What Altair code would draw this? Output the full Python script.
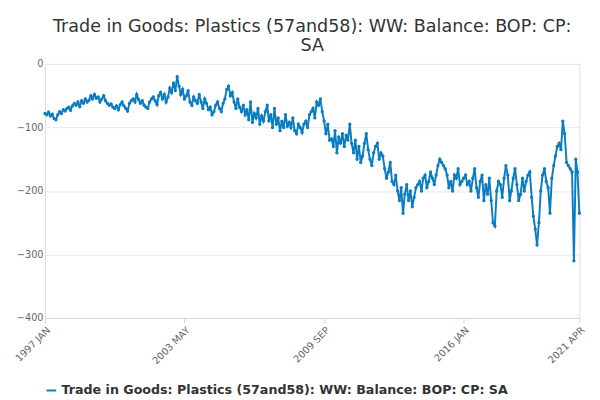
import altair as alt
import pandas as pd

# monthly values, 1997 JAN .. 2021 APR
values = [
    -78, -80, -76, -82, -79, -86, -88, -80, -75, -78, -72, -74,   # 1997
    -70, -68, -73, -66, -62, -65, -60, -67, -58, -62, -55, -60,   # 1998
    -57, -50, -55, -48, -54, -52, -60, -55, -50, -58, -62, -65,   # 1999
    -63, -68, -70, -66, -72, -64, -60, -66, -70, -74, -62, -58,   # 2000
    -55, -60, -48, -56, -62, -58, -65, -68, -70, -60, -55, -52,   # 2001
    -58, -64, -50, -45, -55, -48, -60, -52, -38, -45, -30, -42,   # 2002
    -20, -35, -48, -40, -55, -50, -42, -60, -65, -52, -58, -62,   # 2003
    -48, -60, -70, -55, -62, -72, -68, -80, -75, -65, -60, -70,   # 2004
    -75, -62, -55, -40, -35, -50, -45, -60, -70, -55, -68, -75,   # 2005
    -65, -80, -72, -88, -60, -92, -78, -85, -70, -95, -82, -90,   # 2006
    -75, -65, -90, -80, -100, -70, -95, -85, -105, -90, -100, -80,  # 2007
    -98, -92, -100, -85, -105, -110, -95, -100, -108, -95, -90, -100,  # 2008
    -80, -75, -70, -85, -60, -65, -55, -75, -90, -110, -95, -120,  # 2009
    -118, -130, -105, -140, -115, -125, -110, -130, -112, -120, -95, -125,  # 2010
    -140, -120, -150, -130, -155, -145, -125, -110, -135, -150, -160, -140,  # 2011
    -130, -125, -150, -140, -145, -165, -180, -170, -155, -185, -190, -175,  # 2012
    -200, -215, -195, -235, -205, -190, -215, -200, -225, -210, -195, -190,  # 2013
    -185, -200, -180, -175, -195, -185, -170, -180, -190, -175, -160, -150,  # 2014
    -155, -160, -165, -175, -195, -185, -200, -175, -180, -165, -190, -185,  # 2015
    -180, -175, -190, -185, -200, -180, -165, -195, -210, -185, -175, -215,  # 2016
    -190, -205, -180, -215, -250, -255, -200, -185, -190, -210, -180, -160,  # 2017
    -175, -215, -200, -180, -165, -190, -215, -205, -180, -200, -185, -175,  # 2018
    -170, -210, -240, -260, -285, -250, -200, -175, -165, -185, -195, -235,  # 2019
    -180, -160, -145, -130, -125, -135, -90, -110, -155, -160, -165, -170,  # 2020
    -310, -150, -170, -235,  # 2021
]
tick_dates = ["1997-01-01", "2003-05-01", "2009-09-01", "2016-01-01", "2021-04-01"]
series = "Trade in Goods: Plastics (57and58): WW: Balance: BOP: CP: SA"

months = pd.date_range("1997-01-01", periods=len(values), freq="MS")
df = pd.DataFrame({"date": months, "value": values, "series": series})

line = alt.Chart(df).mark_line(
    point=alt.OverlayMarkDef(size=12, filled=True), strokeWidth=2
).encode(
    x=alt.X("date:T", title=None,
            axis=alt.Axis(values=tick_dates, labelAngle=-45, grid=False,
                          labelExpr="upper(timeFormat(datum.value, '%Y %b'))",
                          domainColor="#ccd6eb", tickColor="#ccd6eb", labelColor="#666")),
    y=alt.Y("value:Q", title=None, scale=alt.Scale(domain=[-400, 0]),
            axis=alt.Axis(values=[0, -100, -200, -300, -400], domain=False, ticks=False,
                          gridColor="#e6e6e6", labelColor="#666")),
    color=alt.Color("series:N", scale=alt.Scale(range=["#0a7cc1"]),
                    legend=alt.Legend(orient="bottom", title=None, labelFontSize=13,
                                      labelColor="#333", labelFontWeight="bold", labelLimit=600,
                                      symbolType="stroke", symbolStrokeWidth=2)),
)

chart = line.properties(
    width=600, height=400,
    autosize=alt.AutoSizeParams(type="fit", contains="padding"),
    title=alt.TitleParams(["Trade in Goods: Plastics (57and58): WW: Balance: BOP: CP:", "SA"],
                          fontSize=18, fontWeight="normal", color="#333"),
).configure_view(stroke=None).configure(font="DejaVu Sans")

chart.save("out.html", embed_options={"renderer": "svg", "actions": False})
